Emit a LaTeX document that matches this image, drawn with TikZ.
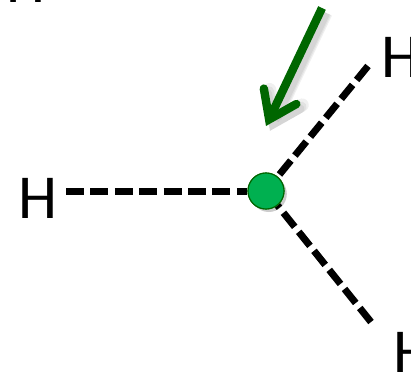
\documentclass[tikz,border=0pt]{standalone}
\usepackage{fontspec}
\setmainfont{Carlito}
\usetikzlibrary{arrows.meta,positioning}

\begin{document}
\begin{tikzpicture}[
        atom/.style={inner sep=0pt, font=\fontsize{44.5}{50}\selectfont},
        core/.style={circle, draw=green!40!black, fill=corefill, line width=0.8pt, minimum size=0.9cm, inner sep=0pt},
        bond/.style={line width=0.175cm, dash pattern=on 0.45cm off 0.16cm},
        attack/.style={-{Straight Barb[line cap=round,line join=miter,length=0.64cm,width=0.9cm]}, line width=0.21cm, draw=attackgreen},
        attackshadow/.style={-{Straight Barb[line cap=round,line join=miter,length=0.64cm,width=0.9cm]}, line width=#1, draw=black, draw opacity=0.06}
    ]
    \definecolor{corefill}{HTML}{00B050}
    \definecolor{attackgreen}{HTML}{006600}
    \useasboundingbox (0,0) rectangle (10.275,9.4);
    \clip (0,0) rectangle (10.275,9.4);

    \node[atom] (hleft) at (0.96,4.43) {H};
    \node[atom] (hupper) at (10.02,7.97) {H};
    \node[atom] (hlower) at (10.33,0.6) {H};
    \node[atom] (htop) at (0.66,9.84) {H};

    \node[core, draw=none, fill=black, opacity=0.2] (coreshadow) at (6.72,4.55) {};
    \node[core] (center) at (6.65,4.625) {};

    \coordinate (bondleft) at (1.65,4.625);
    \coordinate (bondupper) at (9.2,7.75);
    \coordinate (bondlower) at (9.275,1.35);
    \coordinate (arrowstart) at (8.05,9.2);
    \coordinate (arrowend) at (6.65,6.25);

    \foreach \w in {0.33cm,0.27cm,0.21cm}
        \draw[attackshadow=\w] ([shift={(0.1,-0.12)}]arrowstart) -- ([shift={(0.1,-0.12)}]arrowend);

    \draw[bond] (bondleft) -- (center);
    \draw[bond] (bondupper) -- (center);
    \draw[bond] (bondlower) -- (center);
    \node[core] at (center) {};

    \draw[attack] (arrowstart) -- (arrowend);
\end{tikzpicture}
\end{document}
